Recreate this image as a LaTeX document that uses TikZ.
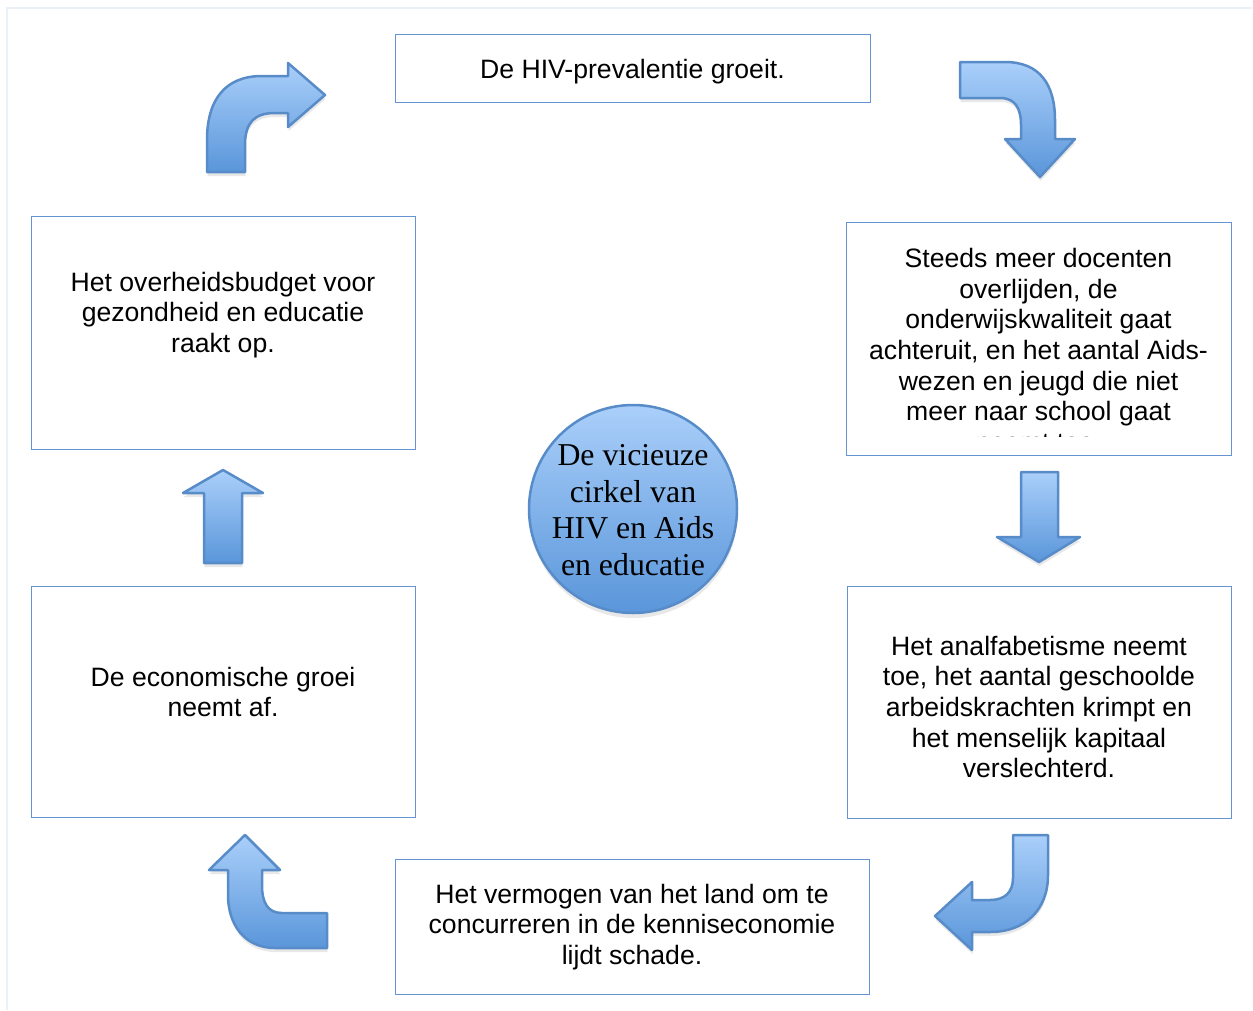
\documentclass[tikz,border=0pt]{standalone}
\usepackage{fontspec}
\setmainfont{Liberation Sans}
\newfontfamily\circfont{Liberation Serif}
\usetikzlibrary{shadows}
\definecolor{boxblue}{RGB}{100,149,210}
\definecolor{arredge}{RGB}{88,140,200}
\definecolor{arrtop}{RGB}{170,207,250}
\definecolor{arrbot}{RGB}{90,150,218}
\definecolor{framec}{RGB}{234,240,247}
\tikzset{
  box/.style={draw=boxblue, line width=1pt, fill=white, inner sep=0pt},
  txt/.style={font=\fontsize{26.6}{30.6}\selectfont, align=center, inner sep=0pt},
  arr/.style={draw=arredge, line width=2.5pt, line join=round, top color=arrtop, bottom color=arrbot,
    drop shadow={opacity=0.18, shadow xshift=0.5pt, shadow yshift=-4pt}},
}
\begin{document}
\begin{tikzpicture}[x=1pt,y=-1pt]
\useasboundingbox (0,0) rectangle (1253,1010);
\fill[white] (0,0) rectangle (1253,1010);
% outer frame
\coordinate (ftl) at (7,8);
\coordinate (ftr) at (1252,8);
\coordinate (fbl) at (7,1010);
\draw[framec, line width=2pt] (ftr) -- (ftl) -- (fbl);

% boxes
\node[box, minimum width=475pt, minimum height=68pt] (top) at (632.5,68) {};
\node[box, minimum width=384pt, minimum height=233pt] (lt) at (223,332.5) {};
\node[box, minimum width=385pt, minimum height=233pt] (rt) at (1038.5,338.5) {};
\node[box, minimum width=384pt, minimum height=231pt] (lb) at (223,701.5) {};
\node[box, minimum width=384pt, minimum height=232pt] (rb) at (1039,702) {};
\node[box, minimum width=474pt, minimum height=135pt] (bot) at (632,926.5) {};

% texts
\node[txt] (ttop) at (632.5,72) {De HIV-prevalentie groeit.};
\node[txt] (tlt) at (223,315) {Het overheidsbudget voor\\gezondheid en educatie\\raakt op.};
\begin{scope}
\clip (848,224) rectangle (1229,436);
\node[txt] (trt) at (1038.5,350) {Steeds meer docenten\\overlijden, de\\onderwijskwaliteit gaat\\achteruit, en het aantal Aids-\\wezen en jeugd die niet\\meer naar school gaat\\neemt toe.};
\end{scope}
\node[txt] (tlb) at (223,692) {De economische groei\\neemt af.};
\node[txt] (trb) at (1039,707) {Het analfabetisme neemt\\toe, het aantal geschoolde\\arbeidskrachten krimpt en\\het menselijk kapitaal\\verslechterd.};
\node[txt] (tbot) at (632,927) {Het vermogen van het land om te\\concurreren in de kenniseconomie\\lijdt schade.};

% centre circle
\node[circle, minimum size=208pt, draw=arredge, line width=2.5pt, top color=arrtop, bottom color=arrbot,
  drop shadow={opacity=0.18, shadow xshift=0.5pt, shadow yshift=-5pt}] (circ) at (633,509) {};
\node[align=center, inner sep=0pt, font=\circfont\fontsize{31.8}{36.6}\selectfont] (ctext) at (633,510)
  {De vicieuze\\cirkel van\\HIV en Aids\\en educatie};

% bent arrow: up then right (top-left)
\path[arr] (207,172) -- (207,140) .. controls (207,100) and (225,76) .. (262,76) -- (288,76) -- (288,63)
  -- (325,95) -- (288,127) -- (288,113) -- (275,113) .. controls (255,113) and (245,122) .. (245,145)
  -- (245,172) -- cycle;
% bent arrow: right then down (top-right)
\path[arr] (960,62) -- (1005,62) .. controls (1040,62) and (1055,85) .. (1055,120) -- (1055,139)
  -- (1075,139) -- (1040,177) -- (1005,139) -- (1021,139) -- (1021,125)
  .. controls (1021,108) and (1015,98) .. (1000,98) -- (960,98) -- cycle;
% straight down arrow (right side)
\path[arr] (1021,472) -- (1058,472) -- (1058,537) -- (1080,537) -- (1039,562) -- (997,537) -- (1021,537) -- cycle;
% bent arrow: down then left (bottom-right)
\path[arr] (1013,835) -- (1048,835) -- (1048,875) .. controls (1048,910) and (1025,932) .. (990,932)
  -- (972,932) -- (972,950) -- (935,916) -- (972,882) -- (972,900) -- (990,900)
  .. controls (1005,900) and (1013,892) .. (1013,878) -- cycle;
% bent arrow: left then up (bottom-left)
\path[arr] (327,948) -- (275,948) .. controls (245,948) and (228,925) .. (228,895) -- (228,870)
  -- (209,870) -- (245,835) -- (280,870) -- (262,870) -- (262,885)
  .. controls (262,903) and (268,913) .. (282,913) -- (327,913) -- cycle;
% straight up arrow (left side)
\path[arr] (204,563) -- (204,493) -- (183,493) -- (223,470) -- (263,493) -- (242,493) -- (242,563) -- cycle;
\end{tikzpicture}
\end{document}
